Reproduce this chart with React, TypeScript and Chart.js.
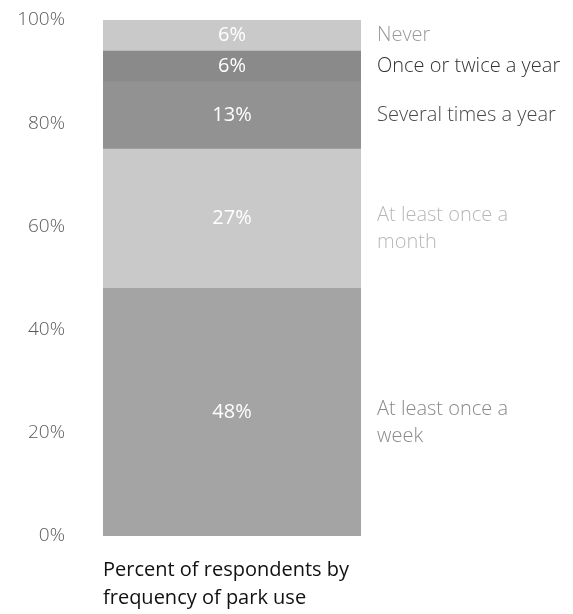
import React, { useEffect, useRef } from "react";
import { Chart, registerables } from "chart.js";

Chart.register(...registerables);

const categories = ["Percent of respondents by frequency of park use"];
const seriesNames = [
  "At least once a week",
  "At least once a month",
  "Several times a year",
  "Once or twice a year",
  "Never",
];
const seriesLabelLines = [
  ["At least once a", "week"],
  ["At least once a", "month"],
  ["Several times a year"],
  ["Once or twice a year"],
  ["Never"],
];
const seriesValues = [48, 27, 13, 6, 6];
const seriesColors = ["#a4a4a4", "#c9c9c9", "#929292", "#8a8a8a", "#c9c9c9"];
const seriesTextColors = ["#8a8a8a", "#b8b8b8", "#484848", "#333333", "#9a9a9a"];
const yTicks = [0, 20, 40, 60, 80, 100];
const xTitleLines = ["Percent of respondents by", "frequency of park use"];

const FONT = "'Open Sans', 'Noto Sans', sans-serif";

const labelsPlugin = {
  id: "segLabels",
  afterDatasetsDraw(chart: any) {
    const { ctx, chartArea } = chart;
    ctx.save();
    chart.data.datasets.forEach((ds: any, i: number) => {
      const meta = chart.getDatasetMeta(i);
      const bar = meta.data[0];
      if (!bar) return;
      const props = bar.getProps(["x", "y", "base"], true);
      const cy = (props.y + props.base) / 2;
      ctx.fillStyle = "#ffffff";
      ctx.font = `400 20px ${FONT}`;
      ctx.textAlign = "center";
      ctx.textBaseline = "middle";
      ctx.fillText(`${ds.data[0]}%`, props.x, cy);
      const lines: string[] = seriesLabelLines[i];
      ctx.fillStyle = seriesTextColors[i];
      ctx.font = `300 20px ${FONT}`;
      ctx.textAlign = "left";
      const startY = lines.length > 1 ? cy - 3 : cy;
      lines.forEach((ln, k) => {
        ctx.fillText(ln, chartArea.right + 16, startY + k * 27);
      });
    });
    ctx.restore();
  },
};

export default function App() {
  const ref = useRef<HTMLCanvasElement | null>(null);
  useEffect(() => {
    if (!ref.current) return;
    const chart = new Chart(ref.current, {
      type: "bar",
      data: {
        labels: categories,
        datasets: seriesNames.map((name, i) => ({
          label: name,
          data: [seriesValues[i]],
          backgroundColor: seriesColors[i],
          borderWidth: 0,
          barPercentage: 1,
          categoryPercentage: 1,
        })),
      },
      options: {
        animation: false,
        responsive: false,
        maintainAspectRatio: false,
        layout: { padding: { top: 20, right: 212, bottom: 0, left: 0 } },
        plugins: {
          legend: { display: false },
          tooltip: { enabled: false },
        },
        scales: {
          x: {
            stacked: true,
            grid: { display: false, drawTicks: false },
            border: { display: false },
            ticks: { display: false },
            title: {
              display: true,
              text: xTitleLines,
              align: "start",
              color: "#111111",
              font: { family: FONT, size: 20, weight: "400", lineHeight: 28 / 20 },
              padding: { top: 0, bottom: 2 },
            },
            afterFit: (scale: any) => {
              scale.height = 78;
            },
          },
          y: {
            stacked: true,
            min: 0,
            max: 100,
            afterBuildTicks: (scale: any) => {
              scale.ticks = yTicks.map((v) => ({ value: v }));
            },
            grid: { display: false, drawTicks: false },
            border: { display: false },
            ticks: {
              padding: 38,
              color: "#5a5a5a",
              font: { family: FONT, size: 19, weight: "300" },
              callback: (v: any) => `${v}%`,
            },
            afterFit: (scale: any) => {
              scale.width = 103;
              scale.paddingTop = 0;
              scale.paddingBottom = 0;
            },
          },
        },
      },
      plugins: [labelsPlugin],
    });
    return () => chart.destroy();
  }, []);
  return (
    <div style={{ position: "absolute", left: 0, top: 0, width: 573, height: 614, background: "#fff" }}>
      <canvas ref={ref} width={573} height={614} style={{ width: 573, height: 614 }} />
    </div>
  );
}
